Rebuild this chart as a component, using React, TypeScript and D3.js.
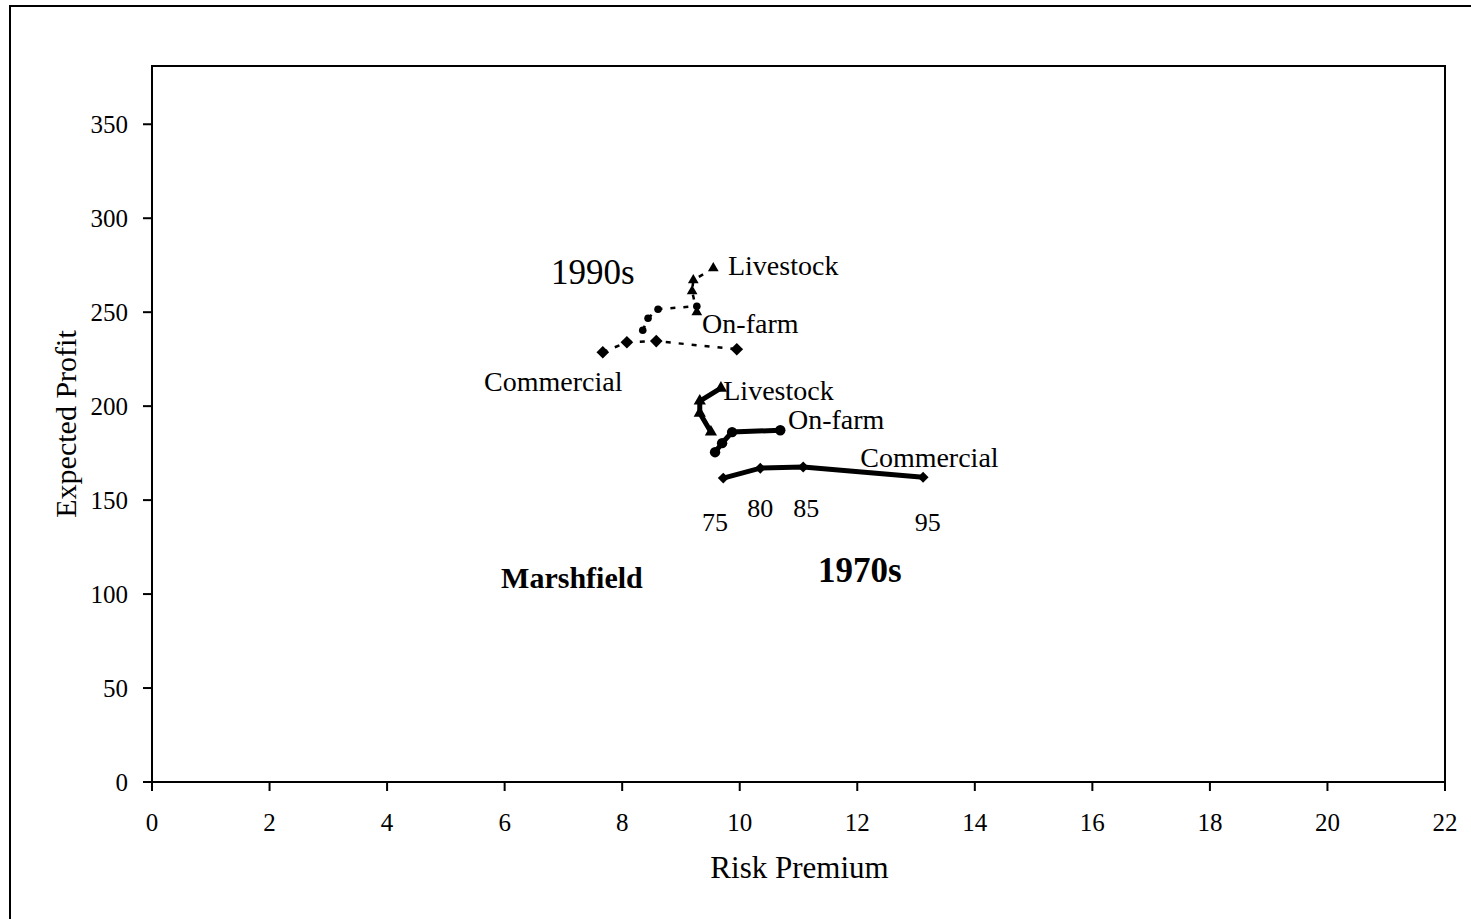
import React from 'react';
import * as d3 from 'd3';

// risk premium (x) vs expected profit (y), points at the 75/80/85/95 levels
const commercial90s: [number, number][] = [[7.67, 228.7], [8.08, 234], [8.58, 234.6], [9.95, 230.3]];
const onFarm90s: [number, number][] = [[8.35, 240.4], [8.44, 246.8], [8.61, 251.6], [9.27, 253.2]];
const livestock90s: [number, number][] = [[9.27, 250], [9.19, 261.2], [9.21, 267], [9.55, 273.4]];
const commercial70s: [number, number][] = [[9.72, 161.7], [10.35, 167], [11.08, 167.6], [13.12, 162.2]];
const onFarm70s: [number, number][] = [[9.58, 175.5], [9.7, 180.3], [9.87, 186.2], [10.69, 187.2]];
const livestock70s: [number, number][] = [[9.51, 186.2], [9.32, 196.3], [9.32, 202.7], [9.68, 209.6]];

const xTicks = [0, 2, 4, 6, 8, 10, 12, 14, 16, 18, 20, 22];
const yTicks = [0, 50, 100, 150, 200, 250, 300, 350];

// text notes placed in data units
const notes = [
  { text: '1990s', x: 6.79, y: 265, size: 35, bold: false, anchor: 'start' },
  { text: 'Livestock', x: 9.8, y: 269.7, size: 28, bold: false, anchor: 'start' },
  { text: 'On-farm', x: 9.36, y: 238.8, size: 28, bold: false, anchor: 'start' },
  { text: 'Commercial', x: 5.65, y: 208, size: 28, bold: false, anchor: 'start' },
  { text: 'Livestock', x: 9.72, y: 203.2, size: 28, bold: false, anchor: 'start' },
  { text: 'On-farm', x: 10.82, y: 187.8, size: 28, bold: false, anchor: 'start' },
  { text: 'Commercial', x: 12.05, y: 167.6, size: 28, bold: false, anchor: 'start' },
  { text: '75', x: 9.58, y: 133.5, size: 26, bold: false, anchor: 'middle' },
  { text: '80', x: 10.35, y: 141, size: 26, bold: false, anchor: 'middle' },
  { text: '85', x: 11.13, y: 141, size: 26, bold: false, anchor: 'middle' },
  { text: '95', x: 13.2, y: 133.5, size: 26, bold: false, anchor: 'middle' },
  { text: 'Marshfield', x: 5.94, y: 103.2, size: 30, bold: true, anchor: 'start' },
  { text: '1970s', x: 11.33, y: 106.4, size: 35, bold: true, anchor: 'start' },
];

const font = '"Liberation Serif", "Times New Roman", serif';

const App = () => {
  const left = 152, right = 1445, top = 66, bottom = 782;
  const x = d3.scaleLinear().domain([0, 22]).range([left, right]);
  const y = d3.scaleLinear().domain([0, 381]).range([bottom, top]);
  const path = d3.line<[number, number]>().x(d => x(d[0])).y(d => y(d[1]));

  const diamond = (s: number) => d3.symbol().type(d3.symbolSquare).size(s)() as string;
  const circle = (s: number) => d3.symbol().type(d3.symbolCircle).size(s)() as string;
  const tri = (s: number) => d3.symbol().type(d3.symbolTriangle).size(s)() as string;

  const series = [
    { data: commercial90s, shape: diamond(80), rot: 45, dashed: true },
    { data: onFarm90s, shape: circle(45), rot: 0, dashed: true },
    { data: livestock90s, shape: tri(50), rot: 0, dashed: true },
    { data: commercial70s, shape: diamond(60), rot: 45, dashed: false },
    { data: onFarm70s, shape: circle(85), rot: 0, dashed: false },
    { data: livestock70s, shape: tri(65), rot: 0, dashed: false },
  ];

  return (
    <svg width={1471} height={919} style={{ position: 'absolute', left: 0, top: 0, background: '#fff' }}
      fontFamily={font}>
      <rect x={10} y={6} width={1462} height={916} fill="#fff" stroke="#000" strokeWidth={2} />
      <rect x={left} y={top} width={right - left} height={bottom - top} fill="none" stroke="#000" strokeWidth={2} />

      {yTicks.map(t => (
        <g key={'y' + t}>
          <line x1={left - 9} x2={left} y1={y(t)} y2={y(t)} stroke="#000" strokeWidth={2} />
          <text x={128} y={y(t)} dy="0.35em" textAnchor="end" fontSize={25}>{t}</text>
        </g>
      ))}
      {xTicks.map(t => (
        <g key={'x' + t}>
          <line x1={x(t)} x2={x(t)} y1={bottom} y2={bottom + 9} stroke="#000" strokeWidth={2} />
          <text x={x(t)} y={831} textAnchor="middle" fontSize={25}>{t}</text>
        </g>
      ))}

      <text x={(left + right) / 2 + 1} y={878} textAnchor="middle" fontSize={31}>Risk Premium</text>
      <text transform={`translate(76,${(top + bottom) / 2}) rotate(-90)`} textAnchor="middle" fontSize={30}>Expected Profit</text>

      {series.map((s, i) => (
        <g key={i}>
          <path d={path(s.data) || ''} fill="none" stroke="#000"
            strokeWidth={s.dashed ? 2.5 : 5} strokeDasharray={s.dashed ? '5,8' : undefined} />
          {s.data.map((d, j) => (
            <path key={j} d={s.shape} fill="#000"
              transform={`translate(${x(d[0])},${y(d[1])}) rotate(${s.rot})`} />
          ))}
        </g>
      ))}

      {notes.map((n, i) => (
        <text key={i} x={x(n.x)} y={y(n.y)} fontSize={n.size} fontWeight={n.bold ? 'bold' : 'normal'}
          textAnchor={n.anchor}>{n.text}</text>
      ))}
    </svg>
  );
};

export default App;
